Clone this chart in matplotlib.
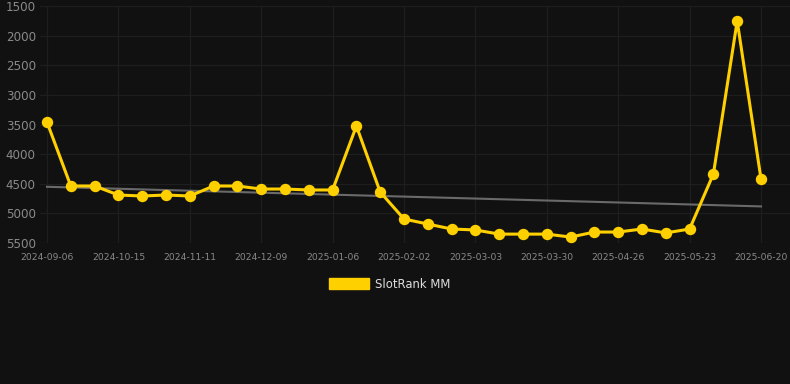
import matplotlib
matplotlib.use("Agg")
import matplotlib.pyplot as plt
import numpy as np
from matplotlib.patches import Patch

dates = ["2024-09-06", "", "", "2024-10-15", "", "", "2024-11-11", "", "", "2024-12-09", "", "",
         "2025-01-06", "", "", "2025-02-02", "", "", "2025-03-03", "", "", "2025-03-30", "", "",
         "2025-04-26", "", "", "2025-05-23", "", "", "2025-06-20"]
values = [3460, 4538, 4538, 4690, 4707, 4690, 4707, 4538, 4538, 4589, 4589, 4605, 4605, 3525,
          4640, 5095, 5180, 5264, 5280, 5350, 5350, 5350, 5400, 5315, 5315, 5264, 5330, 5264,
          4335, 1753, 4420]
series_name = "SlotRank MM"
yticks = [1500, 2000, 2500, 3000, 3500, 4000, 4500, 5000, 5500]

BG = "#111111"
YEL = "#FFD000"
GRID = "#1e1e1e"
TXT = "#8a8a8a"

W, H = 790, 384
fig = plt.figure(figsize=(W / 100, H / 100), dpi=100, facecolor=BG)
ax = fig.add_axes([40 / W, 1 - 243 / H, 750 / W, (243 - 6) / H], facecolor=BG)

x = np.arange(len(values))
slope, intercept = np.polyfit(x, values, 1)
ax.plot(x, slope * x + intercept, color="#6a6a6a", lw=1.5, zorder=2)
ax.plot(x, values, color=YEL, lw=2.2, marker="o", ms=7.2, zorder=3, label=series_name)

ax.set_ylim(5500, 1500)
ax.set_xlim(-7 / 23.8, 30 + 29 / 23.8)
ax.set_yticks(yticks)
tick_idx = [i for i, d in enumerate(dates) if d]
ax.set_xticks(tick_idx)
ax.set_xticklabels([dates[i] for i in tick_idx])
ax.grid(True, color=GRID, lw=0.9)
ax.set_axisbelow(True)
for s in ax.spines.values():
    s.set_visible(False)
ax.tick_params(axis="y", colors=TXT, labelsize=8.6, length=0, pad=3)
ax.tick_params(axis="x", colors=TXT, labelsize=6.6, length=0, pad=7)

leg = fig.legend(handles=[Patch(facecolor=YEL, edgecolor=YEL, label=series_name)],
                 loc="center", bbox_to_anchor=(390 / W, 1 - 284 / H), frameon=False,
                 handlelength=3.4, handleheight=1.1, handletextpad=0.55, fontsize=8.4)
for t in leg.get_texts():
    t.set_color("#dddddd")

fig.savefig("out.png", dpi=100, facecolor=BG)
